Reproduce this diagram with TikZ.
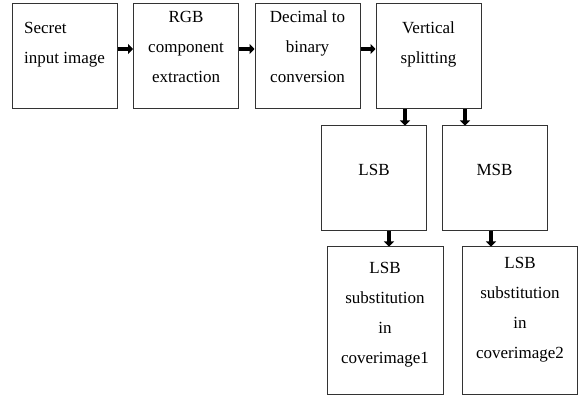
\documentclass[tikz,border=0pt]{standalone}
\usepackage{fontspec}
\setmainfont{Liberation Serif}
\usetikzlibrary{arrows.meta}

\begin{document}
\begin{tikzpicture}[x=1pt, y=-1pt, font=\fontsize{17}{30}\selectfont,
  box/.style={draw=black!80, line width=1pt, inner sep=0pt, align=center, minimum width=105pt, minimum height=105pt},
  tall/.style={box, minimum width=116pt, minimum height=148pt},
  arr/.style={line width=3.6pt, -{Triangle[length=5pt,width=10pt]}}]
\useasboundingbox (0,0) rectangle (579,398);
% top row
\node[box, align=left, text depth=28pt] (b1) at (64.5,56.5) {Secret\\input image};
\node[box, text depth=20pt] (b2) at (186,56.5) {RGB\\component\\extraction};
\node[box, text depth=20pt] (b3) at (307.5,56.5) {Decimal to\\binary\\conversion};
\node[box, text depth=28pt] (b4) at (428.5,56.5) {Vertical\\splitting};
% split
\node[box, text depth=18pt] (lsb) at (374,178.5) {LSB};
\node[box, text depth=18pt] (msb) at (494.5,178.5) {MSB};
% substitution
\node[tall, text depth=17pt] (c1) at (385,321) {LSB\\substitution\\in\\coverimage1};
\node[tall, minimum width=115pt, text depth=27pt] (c2) at (520,321) {LSB\\substitution\\in\\coverimage2};
\draw[arr] ([yshift=7.5pt]b1.east) -- ([yshift=7.5pt]b2.west);
\draw[arr] ([yshift=7.5pt]b2.east) -- ([yshift=7.5pt]b3.west);
\draw[arr] ([yshift=7.5pt]b3.east) -- ([yshift=7.5pt]b4.west);
\draw[arr] ([xshift=-23.5pt]b4.south) -- ([xshift=-23.5pt]b4.south |- lsb.north);
\draw[arr] ([xshift=36.5pt]b4.south) -- ([xshift=36.5pt]b4.south |- msb.north);
\draw[arr] ([xshift=15pt]lsb.south) -- ([xshift=15pt]lsb.south |- c1.north);
\draw[arr] ([xshift=-3.5pt]msb.south) -- ([xshift=-3.5pt]msb.south |- c2.north);
\end{tikzpicture}
\end{document}
